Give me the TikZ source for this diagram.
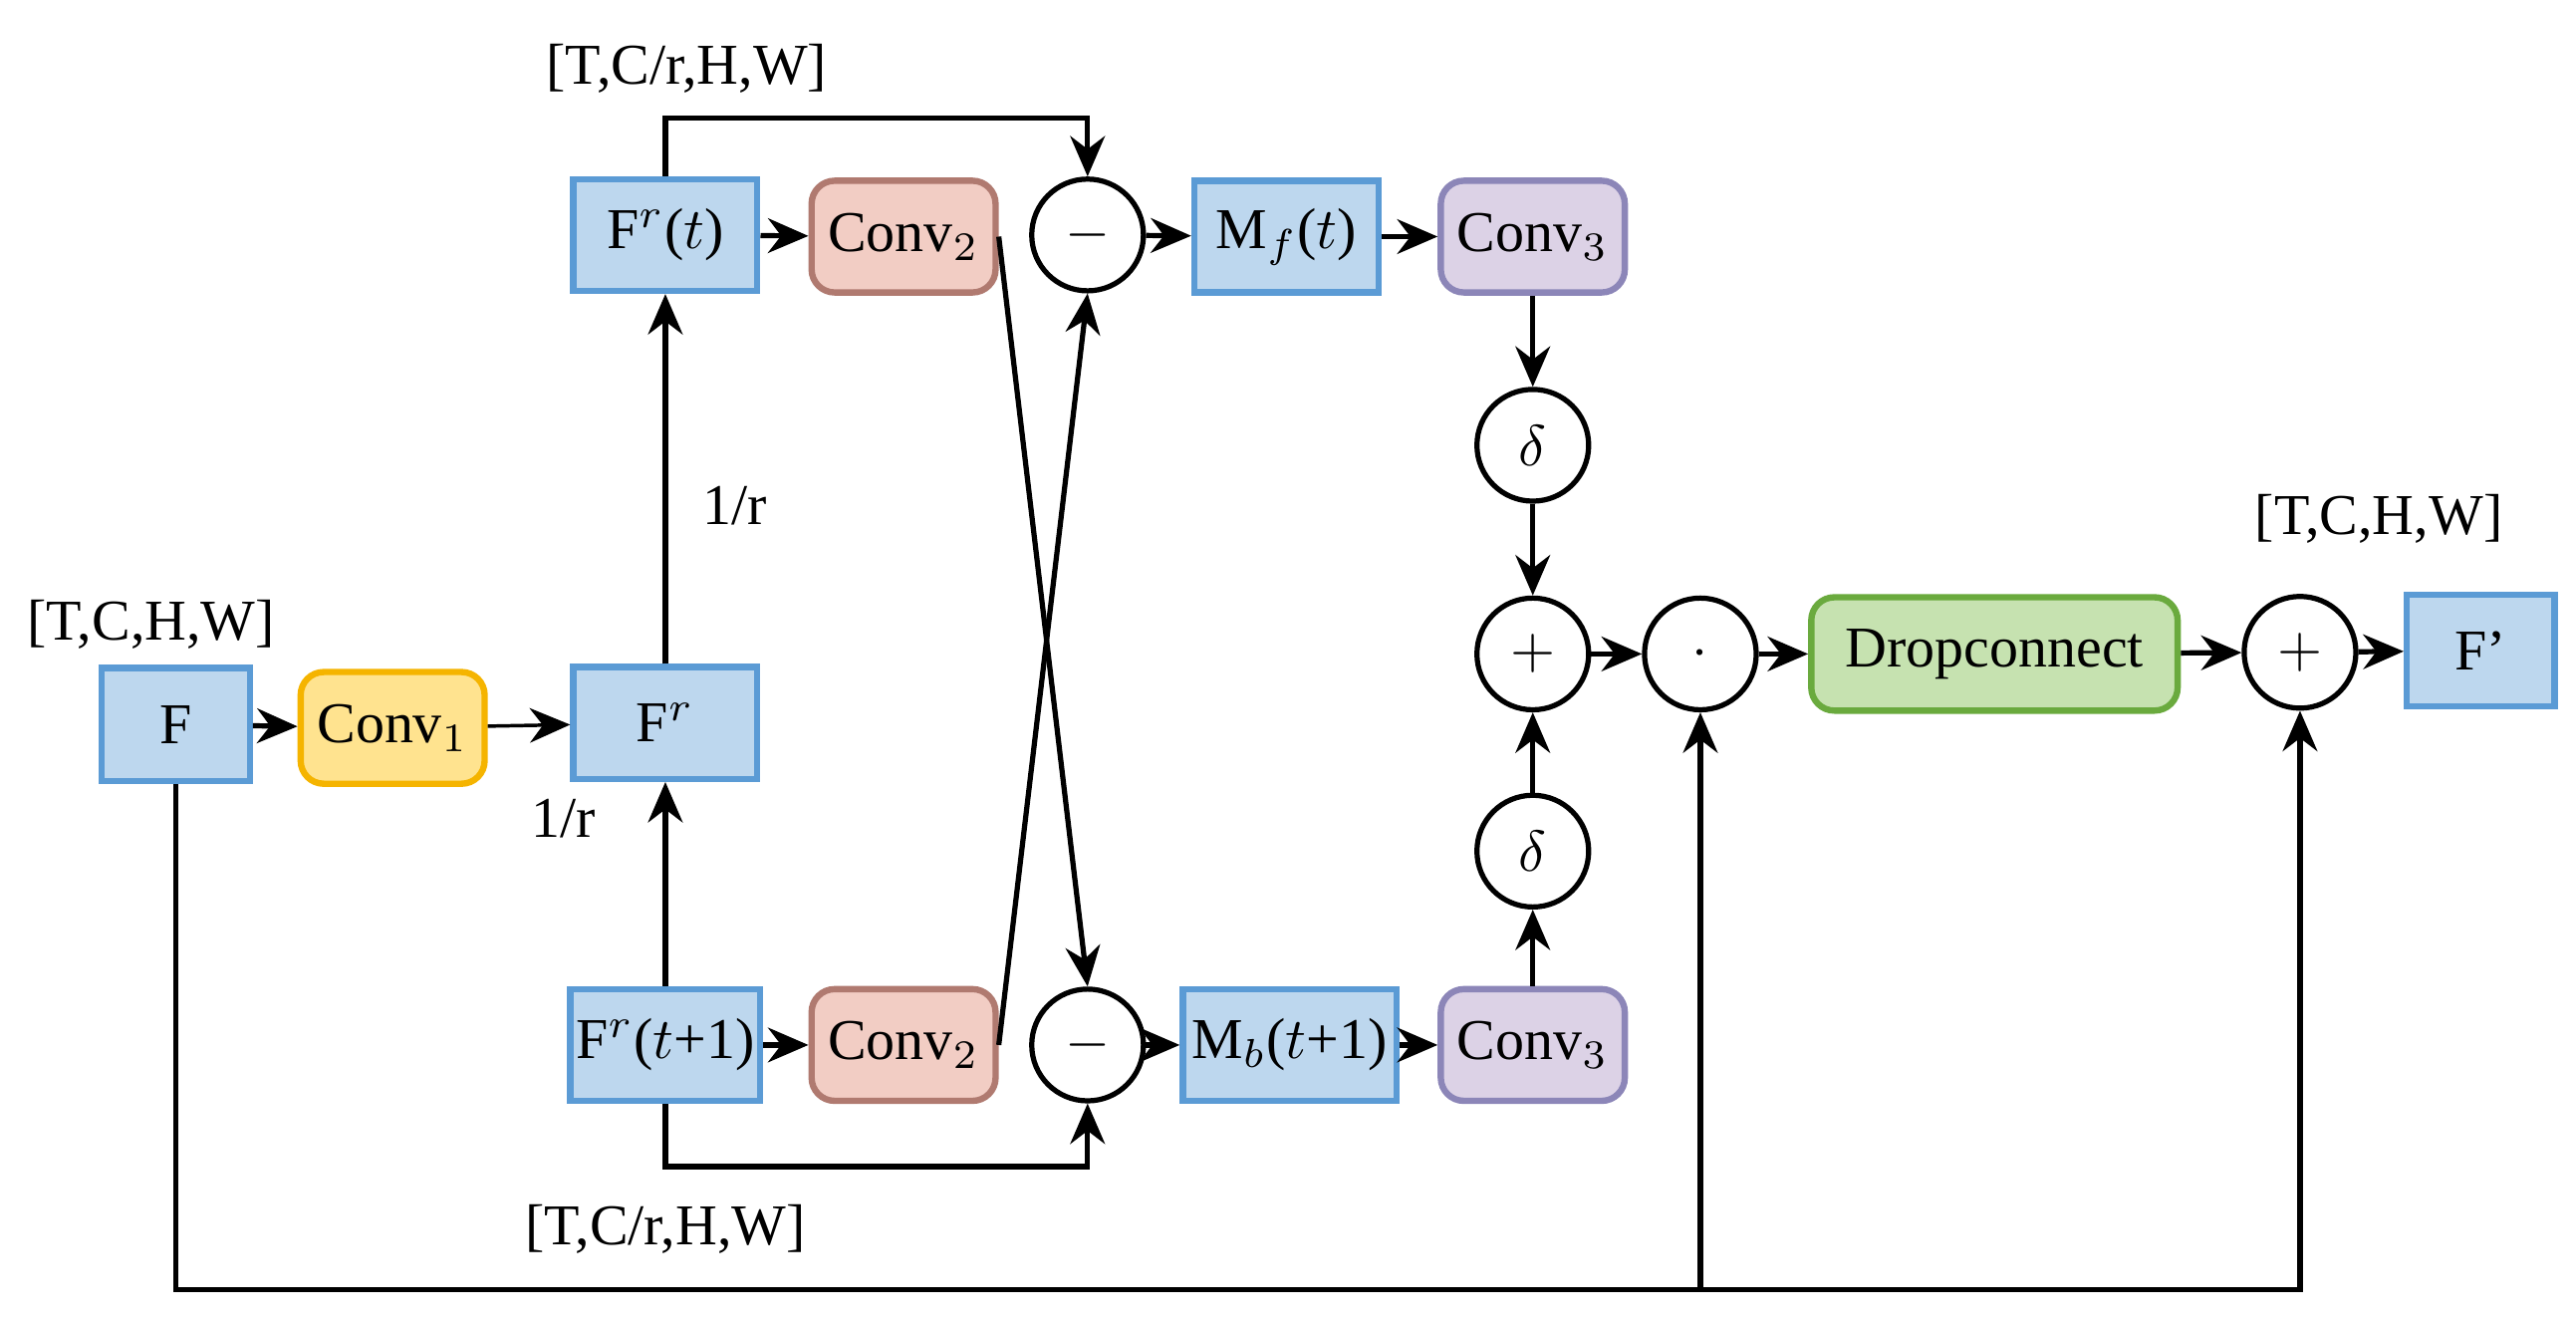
\documentclass[tikz,border=0pt]{standalone}
\usepackage{fontspec}
\setmainfont{Liberation Serif}
\usetikzlibrary{arrows.meta}
\definecolor{bfill}{HTML}{BDD7EE}\definecolor{bdraw}{HTML}{5B9BD5}
\definecolor{rfill}{HTML}{F2CDC4}\definecolor{rdraw}{HTML}{B07A70}
\definecolor{yfill}{HTML}{FFE38F}\definecolor{ydraw}{HTML}{F5B400}
\definecolor{pfill}{HTML}{DCD2E6}\definecolor{pdraw}{HTML}{8C86B8}
\definecolor{gfill}{HTML}{C6E2B0}\definecolor{gdraw}{HTML}{6AAA3E}
\begin{document}
\begin{tikzpicture}[font=\fontsize{10}{12}\selectfont,
  line width=0.9pt, >={Stealth[length=7pt,width=6pt]},
  box/.style={draw=bdraw,fill=bfill,line width=1.1pt,minimum width=1.12cm,minimum height=0.68cm,inner sep=1pt},
  rbox/.style={rounded corners=4pt,line width=1.1pt,minimum width=1.12cm,minimum height=0.68cm,inner sep=1pt},
  op/.style={circle,draw,fill=white,minimum size=0.68cm,inner sep=0pt}]
\useasboundingbox (0,0) rectangle (15.68,-8.05);
% boxes
\node[box,minimum width=0.9cm,minimum height=0.69cm] (F) at (1.07,-4.41) {F};
\node[rbox,draw=ydraw,fill=yfill] (c1) at (2.39,-4.43) {Conv$_1$};
\node[box] (fr) at (4.05,-4.40) {F$^r$};
\node[box] (frt) at (4.05,-1.43) {F$^r$($t$)};
\node[box] (frt1) at (4.05,-6.36) {F$^r$($t$+1)};
\node[rbox,draw=rdraw,fill=rfill] (c2a) at (5.50,-1.44) {Conv$_2$};
\node[rbox,draw=rdraw,fill=rfill] (c2b) at (5.50,-6.36) {Conv$_2$};
\node[op] (m1) at (6.62,-1.43) {$-$};
\node[op] (m2) at (6.62,-6.36) {$-$};
\node[box] (mf) at (7.83,-1.44) {M$_f$($t$)};
\node[box,minimum width=1.30cm] (mb) at (7.85,-6.36) {M$_b$($t$+1)};
\node[rbox,draw=pdraw,fill=pfill] (c3a) at (9.33,-1.44) {Conv$_3$};
\node[rbox,draw=pdraw,fill=pfill] (c3b) at (9.33,-6.36) {Conv$_3$};
\node[op] (d1) at (9.33,-2.71) {$\delta$};
\node[op] (d2) at (9.33,-5.18) {$\delta$};
\node[op] (p1) at (9.33,-3.98) {$+$};
\node[op] (dt) at (10.35,-3.98) {$\cdot$};
\node[rbox,draw=gdraw,fill=gfill,minimum width=2.23cm,minimum height=0.69cm] (dc) at (12.14,-3.98) {Dropconnect};
\node[op] (p2) at (14.00,-3.97) {$+$};
\node[box,minimum width=0.9cm] (Fo) at (15.10,-3.96) {F’};
% labels
\node (l1) at (4.18,-0.42) {[T,C/r,H,W]};
\node (l2) at (0.92,-3.80) {[T,C,H,W]};
\node (l3) at (4.47,-3.08) {1/r};
\node (l4) at (3.43,-4.98) {1/r};
\node (l5) at (4.05,-7.48) {[T,C/r,H,W]};
\node (l6) at (14.48,-3.16) {[T,C,H,W]};
% connectors
\draw[->] (F) -- (c1);
\draw[->,line width=0.6pt] (c1) -- (fr);
\draw[->] (fr) -- (frt);
\draw[->] (frt1) -- (fr);
\draw[->] (frt) -- (c2a);
\draw[->] (frt1) -- (c2b);
\draw[->] (frt.north) |- (5.5,-0.72) -| (m1.north);
\draw[->] (frt1.south) |- (5.5,-7.10) -| (m2.south);
\draw[->] (c2a.east) -- (m2.north);
\draw[->] (c2b.east) -- (m1.south);
\draw[->] (m1) -- (mf);
\draw[->] (m2) -- (mb);
\draw[->] (mf) -- (c3a);
\draw[->] (mb) -- (c3b);
\draw[->] (c3a) -- (d1);
\draw[->] (d1) -- (p1);
\draw[->] (c3b) -- (d2);
\draw[->] (d2) -- (p1);
\draw[->] (p1) -- (dt);
\draw[->] (dt) -- (dc);
\draw[->] (dc) -- (p2);
\draw[->] (p2) -- (Fo);
\draw (F.south) |- (10.35,-7.85) coordinate (j);
\draw[->] (j) -- (dt.south);
\draw[->] (j) -| (p2.south);
\end{tikzpicture}
\end{document}
